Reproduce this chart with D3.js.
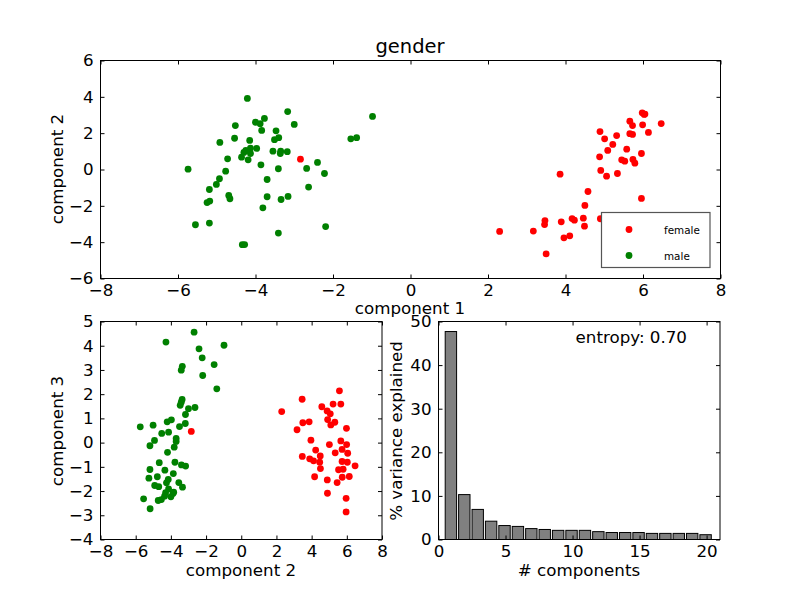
<!DOCTYPE html>
<html>
<head>
<meta charset="utf-8">
<script src="https://cdn.jsdelivr.net/npm/d3@7"></script>
<style>
  html, body { margin: 0; padding: 0; background: #fff; }
  svg { display: block; font-family: "DejaVu Sans", sans-serif; }
</style>
</head>
<body>
<svg id="chart" width="800" height="600"></svg>
<script>
// ---- data ----
const genders = ["female", "male"];
const genderColors = ["#ff0000", "#008000"];

const femalePC1 = [2.30,3.17,3.46,3.47,3.50,3.86,3.89,3.96,4.11,4.17,4.23,4.46,4.49,4.50,4.58,4.88,4.89,4.90,4.91,5.01,5.06,5.09,5.22,5.32,5.34,5.45,5.53,5.58,5.66,5.66,5.73,5.73,5.74,5.79,5.96,5.96,5.98,5.99,6.03,6.05,6.14,6.47,-2.84];
const femalePC2 = [-3.41,-3.39,-3.03,-2.81,-4.64,-0.26,-2.88,-3.76,-3.65,-2.70,-2.79,-2.68,-3.12,-1.98,-1.21,0.70,2.09,-2.71,-0.05,1.69,-0.37,1.05,1.38,1.87,-0.22,0.53,0.46,1.12,2.66,1.97,2.42,1.93,0.55,0.35,0.88,-1.59,3.12,2.46,3.03,3.05,2.04,2.53,0.57];
const femalePC3 = [1.28,0.53,1.79,-0.57,0.82,0.86,-0.67,0.10,-0.75,-1.41,-0.31,-0.81,-0.55,-1.07,1.48,1.31,-1.54,-2.09,0.95,-0.08,1.19,0.73,1.59,0.84,-0.42,-1.65,-1.12,2.14,1.59,0.07,-0.78,-0.28,-1.43,-1.10,-2.30,-2.86,0.59,-0.08,-0.81,-0.44,-1.40,-0.96,0.46];

const malePC1 = [-5.74,-5.55,-5.25,-5.19,-5.19,-5.18,-5.01,-4.93,-4.92,-4.77,-4.72,-4.69,-4.66,-4.54,-4.52,-4.36,-4.34,-4.30,-4.28,-4.25,-4.21,-4.19,-4.15,-4.13,-4.13,-4.00,-3.97,-3.88,-3.86,-3.84,-3.81,-3.77,-3.70,-3.70,-3.55,-3.51,-3.47,-3.41,-3.41,-3.40,-3.36,-3.35,-3.34,-3.18,-3.17,-3.16,-3.00,-2.68,-2.63,-2.40,-2.22,-2.19,-1.54,-1.39,-0.98];
const malePC2 = [0.02,-3.04,-1.82,-1.10,-2.95,-1.74,-0.82,-0.51,1.49,-0.09,0.59,-1.43,-1.61,1.72,2.42,0.68,-4.14,0.94,-4.13,1.05,3.91,0.53,1.60,1.17,0.88,2.60,1.16,2.52,0.26,2.15,-2.11,2.81,-0.55,-1.50,1.01,1.64,2.13,0.04,-3.50,1.75,0.88,1.01,-1.65,0.98,3.19,-1.48,2.48,0.06,-0.97,0.39,-0.22,-3.14,1.69,1.75,2.92];
const malePC3 = [0.65,-2.32,-1.47,-0.13,-1.11,-2.73,0.72,0.09,-1.77,-1.41,-2.39,-1.82,-0.83,-2.35,0.38,-2.21,-1.14,-2.07,4.15,-1.66,0.86,-0.40,-1.52,0.43,-1.91,-2.24,0.94,-2.10,-1.28,-2.05,-0.19,-0.81,0.05,0.17,-1.65,0.66,1.54,2.99,1.67,-0.92,1.78,3.15,-1.84,0.79,1.16,-0.97,1.40,4.56,1.45,3.87,3.50,2.77,3.22,2.22,4.02];

const componentNumbers = d3.range(1, 21);
const varianceExplained = [47.7,10.3,6.9,4.2,3.2,3.0,2.5,2.3,2.1,2.1,2.1,1.8,1.6,1.6,1.6,1.4,1.4,1.4,1.4,1.1];
const entropyLabel = "entropy: 0.70";

const topXTicks = [-8,-6,-4,-2,0,2,4,6,8];
const topYTicks = [-6,-4,-2,0,2,4,6];
const blXTicks = [-8,-6,-4,-2,0,2,4,6,8];
const blYTicks = [-4,-3,-2,-1,0,1,2,3,4,5];
const brXTicks = [0,5,10,15,20];
const brYTicks = [0,10,20,30,40,50];

// ---- build ----
const svg = d3.select("#chart");
svg.append("rect").attr("width", 800).attr("height", 600).attr("fill", "#fff");
const FS = 16.7;

const series = [
  { name: "female", color: genderColors[0], pc1: femalePC1, pc2: femalePC2, pc3: femalePC3 },
  { name: "male", color: genderColors[1], pc1: malePC1, pc2: malePC2, pc3: malePC3 }
];

function axesFrame(box, xs, ys, xTicks, yTicks) {
  const g = svg.append("g");
  const fmt = d3.format("d");
  const styleAxis = sel => {
    sel.select(".domain").remove();
    sel.selectAll("line").attr("stroke", "#000").attr("stroke-width", 1);
    sel.selectAll("text").attr("font-size", FS).attr("font-family", "DejaVu Sans, sans-serif").attr("fill", "#000");
  };
  g.append("g").attr("transform", `translate(0,${box.y + box.h})`)
    .call(d3.axisBottom(xs).tickValues(xTicks).tickSizeInner(-4).tickSizeOuter(0).tickPadding(6).tickFormat(fmt))
    .call(styleAxis);
  g.append("g").attr("transform", `translate(0,${box.y})`)
    .call(d3.axisTop(xs).tickValues(xTicks).tickSizeInner(-4).tickSizeOuter(0).tickFormat(""))
    .call(styleAxis);
  g.append("g").attr("transform", `translate(${box.x},0)`)
    .call(d3.axisLeft(ys).tickValues(yTicks).tickSizeInner(-4).tickSizeOuter(0).tickPadding(7).tickFormat(fmt))
    .call(styleAxis);
  g.append("g").attr("transform", `translate(${box.x + box.w},0)`)
    .call(d3.axisRight(ys).tickValues(yTicks).tickSizeInner(-4).tickSizeOuter(0).tickFormat(""))
    .call(styleAxis);
  return g;
}

function border(box) {
  svg.append("rect")
    .attr("x", box.x).attr("y", box.y).attr("width", box.w).attr("height", box.h)
    .attr("fill", "none").attr("stroke", "#000").attr("stroke-width", 1);
}

// Top panel
const topBox = { x: 100.5, y: 60.5, w: 620, h: 218 };
const xTop = d3.scaleLinear().domain([-8, 8]).range([topBox.x, topBox.x + topBox.w]);
const yTop = d3.scaleLinear().domain([-6, 6]).range([topBox.y + topBox.h, topBox.y]);
series.forEach(s => {
  svg.append("g").selectAll("circle").data(d3.range(s.pc1.length)).join("circle")
    .attr("cx", i => xTop(s.pc1[i])).attr("cy", i => yTop(s.pc2[i]))
    .attr("r", 3.4).attr("fill", s.color);
});
axesFrame(topBox, xTop, yTop, topXTicks, topYTicks);
border(topBox);

// legend
const leg = svg.append("g");
leg.append("rect").attr("x", 601.5).attr("y", 212.5).attr("width", 108.5).attr("height", 55)
  .attr("fill", "#fff").attr("stroke", "#555").attr("stroke-width", 1.2);
genders.forEach((gname, i) => {
  leg.append("circle").attr("cx", 629).attr("cy", 229.5 + i * 26).attr("r", 3.4).attr("fill", genderColors[i]);
  leg.append("text").attr("x", 664).attr("y", 233.5 + i * 26).attr("font-size", 10.4).text(gname);
});

svg.append("text").attr("x", 410).attr("y", 53).attr("text-anchor", "middle").attr("font-size", 19.5).text("gender");
svg.append("text").attr("x", 410).attr("y", 314).attr("text-anchor", "middle").attr("font-size", FS).text("component 1");
svg.append("text").attr("transform", "translate(63,169) rotate(-90)").attr("text-anchor", "middle").attr("font-size", FS).text("component 2");

// Bottom-left panel
const blBox = { x: 100.5, y: 321.5, w: 281.5, h: 218 };
const xBL = d3.scaleLinear().domain([-8, 8]).range([blBox.x, blBox.x + blBox.w]);
const yBL = d3.scaleLinear().domain([-4, 5]).range([blBox.y + blBox.h, blBox.y]);
series.forEach(s => {
  svg.append("g").selectAll("circle").data(d3.range(s.pc1.length)).join("circle")
    .attr("cx", i => xBL(s.pc1[i])).attr("cy", i => yBL(s.pc3[i]))
    .attr("r", 3.4).attr("fill", s.color);
});
axesFrame(blBox, xBL, yBL, blXTicks, blYTicks);
border(blBox);
svg.append("text").attr("x", 241).attr("y", 576).attr("text-anchor", "middle").attr("font-size", FS).text("component 2");
svg.append("text").attr("transform", "translate(63,431) rotate(-90)").attr("text-anchor", "middle").attr("font-size", FS).text("component 3");

// Bottom-right panel
const brBox = { x: 438.5, y: 321.5, w: 281.5, h: 218 };
const xBR = d3.scaleLinear().domain([0, 21]).range([brBox.x, brBox.x + brBox.w]);
const yBR = d3.scaleLinear().domain([0, 50]).range([brBox.y + brBox.h, brBox.y]);
svg.append("g").selectAll("rect").data(componentNumbers).join("rect")
  .attr("x", (d) => xBR(d - 0.5))
  .attr("width", xBR(0.85) - xBR(0))
  .attr("y", (d, i) => yBR(varianceExplained[i]))
  .attr("height", (d, i) => yBR(0) - yBR(varianceExplained[i]))
  .attr("fill", "#808080").attr("stroke", "#000").attr("stroke-width", 1);
axesFrame(brBox, xBR, yBR, brXTicks, brYTicks);
border(brBox);
svg.append("text").attr("x", 687).attr("y", 343).attr("text-anchor", "end").attr("font-size", FS).text(entropyLabel);
svg.append("text").attr("x", 579).attr("y", 576).attr("text-anchor", "middle").attr("font-size", FS).text("# components");
svg.append("text").attr("transform", "translate(402,431) rotate(-90)").attr("text-anchor", "middle").attr("font-size", FS).text("% variance explained");
</script>
</body>
</html>
